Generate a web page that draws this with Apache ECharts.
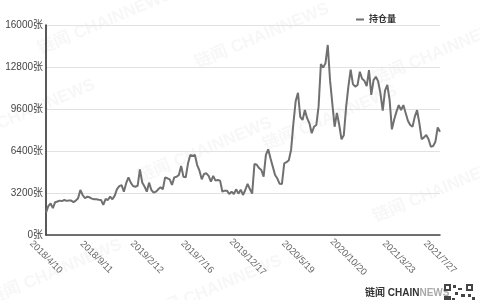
<!DOCTYPE html>
<html>
<head>
<meta charset="utf-8">
<script src="https://cdn.jsdelivr.net/npm/echarts@6/dist/echarts.min.js"></script>
<style>html,body{margin:0;padding:0;background:#fff}#c{width:480px;height:300px}</style>
</head>
<body>
<div id="c"></div>
<script>
// weekly categories starting 2018/4/10
var startDate = [2018, 4, 10];
var weekCount = 173;
var categories = [];
(function () {
  var d = new Date(startDate[0], startDate[1] - 1, startDate[2], 12);
  for (var i = 0; i < weekCount; i++) {
    categories.push(d.getFullYear() + '/' + (d.getMonth() + 1) + '/' + d.getDate());
    d.setDate(d.getDate() + 7);
  }
})();

var seriesName = '持仓量';
var holdings = [
  1700, 2200, 2400, 2050, 2500, 2550, 2620, 2580, 2670, 2600,
  2620, 2620, 2510, 2620, 2800, 3430, 3050, 2800, 2920, 2870,
  2770, 2720, 2720, 2680, 2670, 2290, 2740, 2670, 2920, 2720,
  3000, 3500, 3720, 3800, 3300, 3950, 4390, 3990, 3730, 3680,
  3750, 5000, 4000, 3700, 3300, 3990, 3430, 3230, 3300, 3480,
  3630, 3480, 4390, 4320, 4240, 3810, 4390, 4440, 4570, 5260,
  4440, 4390, 5460, 6100, 6020, 6100, 5330, 4900, 4240, 4650,
  4700, 4500, 4060, 4500, 4140, 4190, 4140, 3300, 3380, 3380,
  3120, 3300, 3120, 3480, 3150, 3450, 3050, 3430, 3890, 3500,
  3150, 5410, 5350, 5100, 4950, 4440, 6100, 6530, 5840, 5210,
  4570, 4300, 3900, 3890, 5460, 5550, 5700, 6500, 8500, 10200,
  10840, 9000, 8760, 9520, 8900, 8510, 7750, 8250, 8380, 9800,
  13030, 12750, 13080, 14480, 11800, 10000, 8250, 9300, 8400, 7290,
  7600, 9700, 11300, 12600, 11500, 11300, 11430, 12440, 11900, 11750,
  11350, 12570, 10670, 11800, 12060, 11700, 10790, 9470, 11000, 11430,
  10300, 8050, 8800, 9400, 9900, 9520, 9900, 9300, 8700, 8380,
  8250, 9020, 9520, 8500, 7300, 7440, 7620, 7300, 6730, 6780,
  7110, 8200, 7870
];
var yTicks = { min: 0, max: 16000, interval: 3200, unit: '张' };
var labelStep = 22;
var watermarkText = '链闻 CHAINNEWS';
var watermarkSpots = [[105, 22], [262, 36], [440, 52], [28, 112], [205, 150], [440, 190], [55, 272], [215, 288], [330, 118]];

var chart = echarts.init(document.getElementById('c'), null, { renderer: 'canvas' });

var fontStack = '"Liberation Sans", "Noto Sans CJK SC", sans-serif';

var graphics = watermarkSpots.map(function (p) {
  return {
    type: 'text', x: p[0], y: p[1], rotation: 0.4, z: -10, silent: true,
    style: {
      text: watermarkText, fill: 'rgba(120,120,120,0.06)',
      font: 'bold 17px "Liberation Sans", "Noto Sans CJK SC", sans-serif',
      align: 'center', verticalAlign: 'middle'
    }
  };
});
graphics.push({
  type: 'text', x: 365, y: 293, z: 10,
  style: {
    text: '{a|链闻 CHAIN}{b|NEWS}', align: 'left', verticalAlign: 'middle',
    rich: {
      a: { fontSize: 10, fontWeight: 'bold', fill: '#333', fontFamily: fontStack },
      b: { fontSize: 10, fontWeight: 'bold', fill: '#aaa', fontFamily: fontStack }
    }
  }
});
// small QR-like mark
var qr = [[444,284,7,7],[466,284,7,7],[444,296,7,4],[453,285,3,3],[458,288,4,2],[455,292,3,3],[461,294,4,3],[468,294,3,3],[472,297,3,3],[452,298,3,2]];
qr.forEach(function (r) {
  graphics.push({ type: 'rect', shape: { x: r[0], y: r[1], width: r[2], height: r[3] }, style: { fill: '#444' }, z: 10 });
});
graphics.push({ type: 'rect', shape: { x: 446, y: 286, width: 3, height: 3 }, style: { fill: '#fff' }, z: 11 });
graphics.push({ type: 'rect', shape: { x: 468, y: 286, width: 3, height: 3 }, style: { fill: '#fff' }, z: 11 });

chart.setOption({
  animation: false,
  backgroundColor: '#fff',
  graphic: graphics,
  legend: {
    data: [{ name: seriesName, icon: 'rect' }],
    top: 10, left: 351,
    itemWidth: 8, itemHeight: 2, itemGap: 7,
    textStyle: { fontSize: 9, fontWeight: 'bold', color: '#333', fontFamily: fontStack }
  },
  grid: { left: 46, right: 40, top: 25, bottom: 65, containLabel: false },
  xAxis: {
    type: 'category',
    data: categories,
    boundaryGap: false,
    axisLine: { show: true, lineStyle: { color: '#444', width: 1.5 } },
    axisTick: { show: false },
    axisLabel: {
      interval: function (index) { return index % labelStep === 0 || index === categories.length - 1; },
      rotate: -45, align: 'center', verticalAlign: 'middle', margin: 22,
      fontSize: 9.5, color: '#666', fontFamily: fontStack
    },
    splitLine: { show: false }
  },
  yAxis: {
    type: 'value',
    min: yTicks.min, max: yTicks.max, interval: yTicks.interval,
    axisLine: { show: true, lineStyle: { color: '#222', width: 1.5 } },
    axisTick: { show: false },
    axisLabel: {
      formatter: function (v) { return v + yTicks.unit; },
      margin: 3, fontSize: 10, color: '#444', fontFamily: fontStack
    },
    splitLine: { show: true, lineStyle: { color: '#e2e2e2', width: 1 } }
  },
  series: [{
    name: seriesName,
    type: 'line',
    data: holdings,
    showSymbol: false,
    symbol: 'none',
    lineStyle: { color: '#707070', width: 2 },
    itemStyle: { color: '#707070' }
  }]
});
</script>
</body>
</html>
